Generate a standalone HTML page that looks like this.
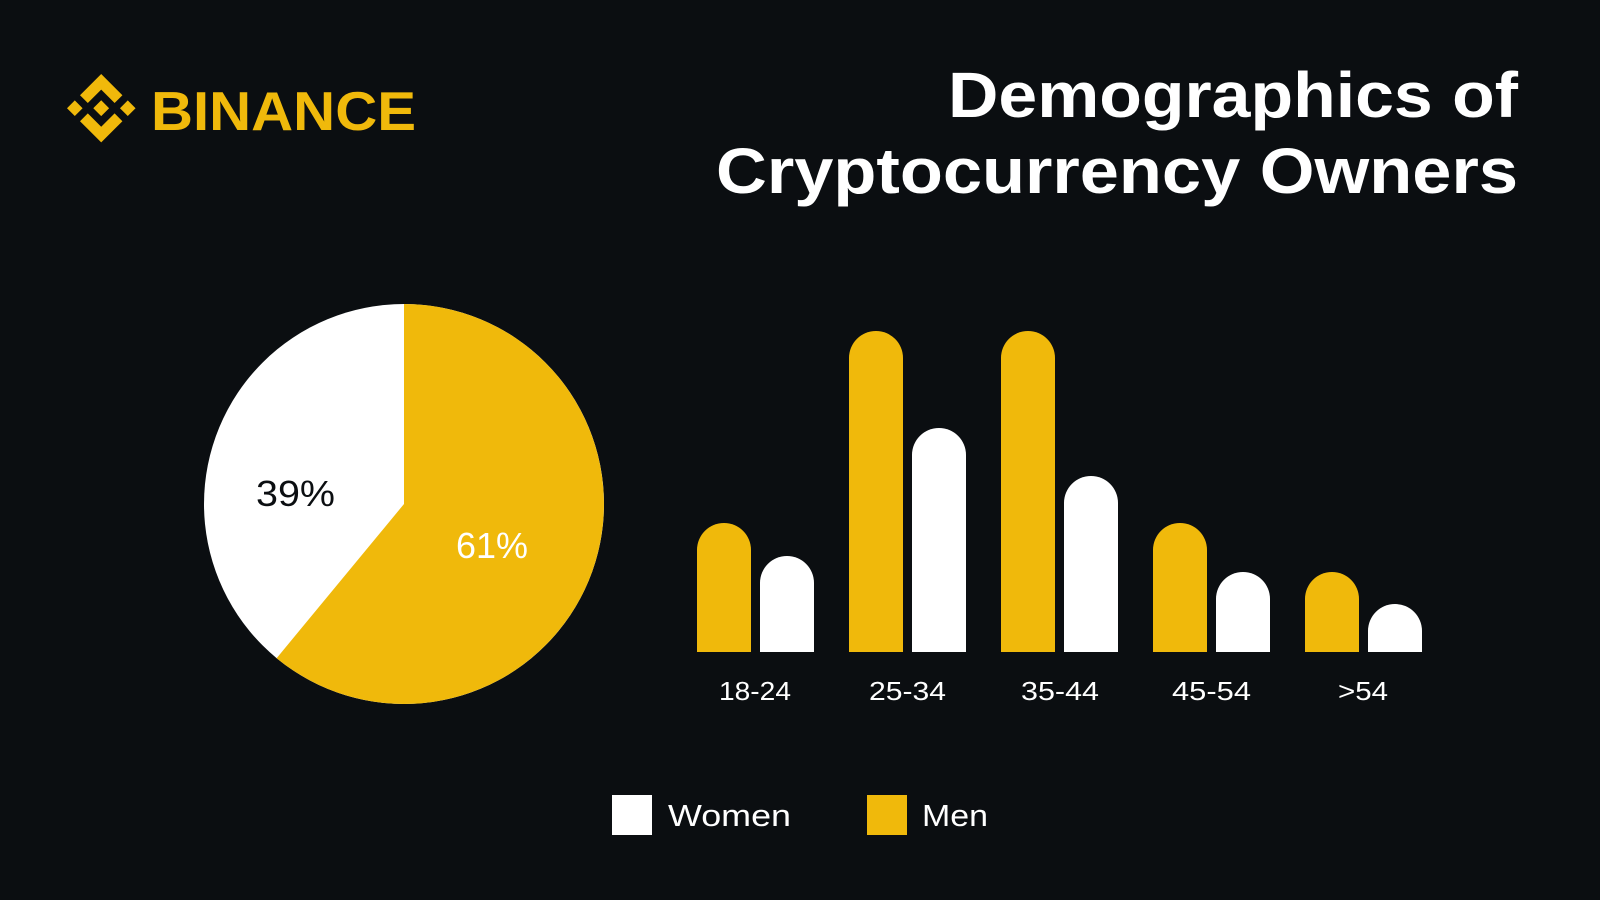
<!DOCTYPE html>
<html><head><meta charset="utf-8"><style>
html,body{margin:0;padding:0;background:#0b0e11;}
svg{display:block}
text{font-family:"Liberation Sans",sans-serif;}
</style></head><body>
<svg width="1600" height="900" viewBox="0 0 1600 900" xmlns="http://www.w3.org/2000/svg">
<rect width="1600" height="900" fill="#0b0e11"/>
<g transform="translate(67,74) scale(0.545)" fill="#f0b90b">
<path d="M38.171 53.203L62.759 28.616l24.601 24.601 14.307-14.307L62.759 0 23.864 38.896l14.307 14.307zM0 62.759l14.307-14.307 14.307 14.307-14.307 14.307zM38.171 72.315l24.588 24.587 24.6-24.6 14.315 14.3-.008.008-38.907 38.908-38.896-38.895-.02-.02 14.328-14.288zM97.197 62.759l14.307-14.307 14.307 14.307-14.307 14.307zM77.271 62.752h.006L62.759 48.234 52.03 58.963l-1.233 1.233-2.543 2.543-.02.02.02.021 14.505 14.505 14.518-14.518.007-.008-.013-.007z"/>
</g>
<text x="151" y="130" font-size="55" font-weight="bold" fill="#f0b90b" textLength="265" lengthAdjust="spacingAndGlyphs">BINANCE</text>
<text x="1518" y="117" font-size="64" font-weight="bold" fill="#fff" text-anchor="end" textLength="570" lengthAdjust="spacingAndGlyphs">Demographics of</text>
<text x="1518" y="193" font-size="64" font-weight="bold" fill="#fff" text-anchor="end" textLength="802" lengthAdjust="spacingAndGlyphs">Cryptocurrency Owners</text>
<circle cx="404" cy="504" r="200" fill="#fff"/>
<path d="M404 504 L404 304 A200 200 0 1 1 276.6 658.2 Z" fill="#f0b90b"/>
<text x="256" y="506" font-size="36" fill="#0b0e11" textLength="79" lengthAdjust="spacingAndGlyphs">39%</text>
<text x="456" y="558" font-size="36" fill="#fff" textLength="72" lengthAdjust="spacingAndGlyphs">61%</text>
<g>
<path d="M697 652 V550 a27 27 0 0 1 54 0 V652 Z" fill="#f0b90b"/>
<path d="M760 652 V583 a27 27 0 0 1 54 0 V652 Z" fill="#fff"/>
<path d="M849 652 V358 a27 27 0 0 1 54 0 V652 Z" fill="#f0b90b"/>
<path d="M912 652 V455 a27 27 0 0 1 54 0 V652 Z" fill="#fff"/>
<path d="M1001 652 V358 a27 27 0 0 1 54 0 V652 Z" fill="#f0b90b"/>
<path d="M1064 652 V503 a27 27 0 0 1 54 0 V652 Z" fill="#fff"/>
<path d="M1153 652 V550 a27 27 0 0 1 54 0 V652 Z" fill="#f0b90b"/>
<path d="M1216 652 V599 a27 27 0 0 1 54 0 V652 Z" fill="#fff"/>
<path d="M1305 652 V599 a27 27 0 0 1 54 0 V652 Z" fill="#f0b90b"/>
<path d="M1368 652 V631 a27 27 0 0 1 54 0 V652 Z" fill="#fff"/>
</g>
<g font-size="26" fill="#fff">
<text x="719" y="700" textLength="72" lengthAdjust="spacingAndGlyphs">18-24</text>
<text x="869" y="700" textLength="77" lengthAdjust="spacingAndGlyphs">25-34</text>
<text x="1021" y="700" textLength="78" lengthAdjust="spacingAndGlyphs">35-44</text>
<text x="1172" y="700" textLength="79" lengthAdjust="spacingAndGlyphs">45-54</text>
<text x="1338" y="700" textLength="50" lengthAdjust="spacingAndGlyphs">&gt;54</text>
</g>
<rect x="612" y="795" width="40" height="40" fill="#fff"/>
<text x="668" y="826" font-size="31" fill="#fff" textLength="123" lengthAdjust="spacingAndGlyphs">Women</text>
<rect x="867" y="795" width="40" height="40" fill="#f0b90b"/>
<text x="922" y="826" font-size="31" fill="#fff" textLength="66" lengthAdjust="spacingAndGlyphs">Men</text>
</svg>
</body></html>
